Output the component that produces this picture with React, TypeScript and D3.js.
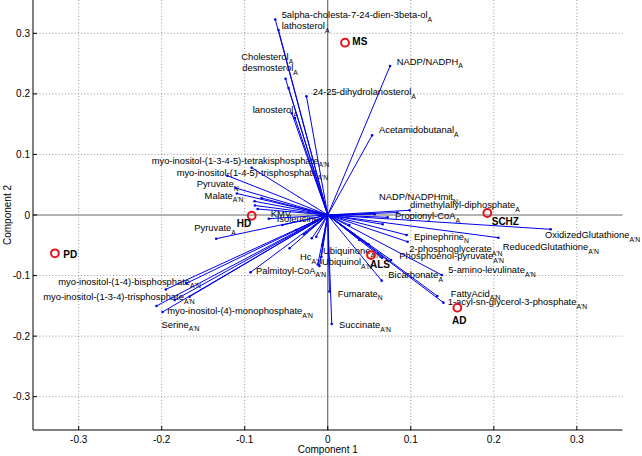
import React from "react";
import * as d3 from "d3";

// ---- Data ----
const vecLabels: string[] = [
  "5alpha-cholesta-7-24-dien-3beta-ol", "lathosterol", "Cholesterol", "desmosterol", "lanosterol",
  "24-25-dihydrolanosterol", "NADP/NADPH", "Acetamidobutanal",
  "myo-inositol-(1-3-4-5)-tetrakisphosphate", "myo-inositol-(1-4-5)-trisphosphate", "Pyruvate", "Malate",
  "Pyruvate", "KMV", "Isoleucine", "Hc", "Palmitoyl-CoA",
  "myo-inositol-(1-4)-bisphosphate", "myo-inositol-(1-3-4)-trisphosphate", "myo-inositol-(4)-monophosphate", "Serine",
  "Ubiquinone", "Ubiquinol", "Fumarate", "Succinate",
  "NADP/NADPHmit", "dimethylallyl-diphosphate", "Propionyl-CoA", "Epinephrine",
  "OxidizedGlutathione", "ReducedGlutathione", "2-phosphoglycerate", "Phosphoenol-pyruvate",
  "Bicarbonate", "5-amino-levulinate", "FattyAcid", "1-acyl-sn-glycerol-3-phosphate",
];
const vecSubs: string[] = [
  "A", "A", "A", "A", "A",
  "A", "A", "A",
  "A'N", "A'N", "N", "A'N",
  "A", "", "", "A'N", "A'N",
  "A'N", "A'N", "A'N", "A'N",
  "A'N", "A'N", "N", "A'N",
  "N", "A", "A", "N",
  "A'N", "A'N", "A'N", "A'N",
  "A", "A'N", "A'N", "A'N",
];
const vecX: number[] = [
  -0.0632, -0.0593, -0.0508, -0.0472, -0.0433,
  -0.0256, 0.075, 0.0534,
  -0.0917, -0.1209, -0.1109, -0.1094,
  -0.1344, -0.0709, -0.0544, -0.012, -0.0929,
  -0.1951, -0.2063, -0.1989, -0.1843,
  -0.0076, -0.01, 0.002, 0.0048,
  0.0986, 0.0838, 0.0721, 0.0962,
  0.2685, 0.2055, 0.0762, 0.0654,
  0.0649, 0.1373, 0.1319, 0.1393,
];
const vecY: number[] = [
  0.3229, 0.3053, 0.2249, 0.2096, 0.1678,
  0.1959, 0.2459, 0.1315,
  0.0781, 0.0649, 0.0446, 0.0355,
  -0.0391, -0.0061, -0.0165, -0.0817, -0.0946,
  -0.1229, -0.1502, -0.1601, -0.1403,
  -0.0693, -0.0842, -0.1262, -0.1799,
  0.0078, 0.0041, -0.0038, -0.0441,
  -0.0236, -0.0375, -0.0743, -0.0705,
  -0.1084, -0.099, -0.1337, -0.1447,
];
// label anchor (left, baseline) in data units
const labX: number[] = [
  -0.0555, -0.0555, -0.1042, -0.103, -0.0904,
  -0.0181, 0.0831, 0.0617,
  -0.2121, -0.182, -0.1579, -0.1483,
  -0.1608, -0.0687, -0.0615, -0.0334, -0.0864,
  -0.3246, -0.3427, -0.1933, -0.2001,
  -0.0057, -0.0069, 0.012, 0.0136,
  0.0617, 0.0991, 0.081, 0.1039,
  0.2617, 0.2108, 0.0983, 0.0862,
  0.073, 0.1452, 0.1481, 0.1445,
];
const labY: number[] = [
  0.3253, 0.3071, 0.2559, 0.2378, 0.1676,
  0.1982, 0.2485, 0.1354,
  0.085, 0.0644, 0.0462, 0.0272,
  -0.0264, -0.0025, -0.0116, -0.0743, -0.0966,
  -0.1148, -0.1404, -0.1635, -0.1858,
  -0.0652, -0.0826, -0.1346, -0.1866,
  0.0248, 0.0116, -0.0066, -0.0405,
  -0.0388, -0.0578, -0.0619, -0.0727,
  -0.104, -0.0958, -0.1346, -0.1486,
];
// unlabeled loading vectors
const extraX: number[] = [
  -0.0881, -0.0877, -0.0845, -0.0797, -0.1702, -0.1664, -0.046, -0.0192, -0.0288, -0.0139,
  -0.0067, -0.0381, -0.0258, 0.0661, 0.095, 0.0493, 0.0381, 0.026, -0.0395, 0.0566,
];
const extraY: number[] = [
  0.0226, 0.0157, 0.0099, 0.028, -0.1128, -0.1349, -0.055, -0.0384, -0.0318, -0.0358,
  -0.0495, -0.0248, -0.0292, -0.0153, -0.033, -0.0483, -0.0413, -0.0165, 0.16, 0.0013,
];

// groups (scores)
const groupNames: string[] = ["MS", "SCHZ", "HD", "PD", "ALS", "AD"];
const groupX: number[] = [0.0208, 0.1922, -0.0916, -0.3286, 0.0521, 0.1561];
const groupY: number[] = [0.2845, 0.0033, -0.0012, -0.0632, -0.0661, -0.1531];
const groupLabX: number[] = [0.0296, 0.1975, -0.1097, -0.3186, 0.0509, 0.1497];
const groupLabY: number[] = [0.2807, -0.0157, -0.0198, -0.0702, -0.0875, -0.1792];

const ticks: number[] = [-0.3, -0.2, -0.1, 0, 0.1, 0.2, 0.3];
const tickLabels: string[] = ["-0.3", "-0.2", "-0.1", "0", "0.1", "0.2", "0.3"];

const FONT = "'Liberation Sans', Arial, Helvetica, sans-serif";

export default function App() {
  const W = 642, H = 456;
  const x = d3.scaleLinear().domain([-0.355, 0.355]).range([33, 622.5]);
  const y = d3.scaleLinear().domain([-0.355, 0.355]).range([430, 0]);
  const [x0, x1] = x.range();
  const [yb, yt] = y.range();

  const allX = vecX.concat(extraX);
  const allY = vecY.concat(extraY);

  return (
    <svg width={W} height={H} style={{ position: "absolute", left: 0, top: 0, background: "#fff" }} fontFamily={FONT}>
      <rect x={0} y={0} width={W} height={H} fill="#fff" />
      {ticks.filter((t) => t !== 0).map((t, i) => (
        <g key={"g" + i}>
          <line x1={x(t)} x2={x(t)} y1={yt} y2={yb} stroke="#7a7a7a" strokeWidth={0.8} strokeDasharray="1,2.2" />
          <line x1={x0} x2={x1} y1={y(t)} y2={y(t)} stroke="#7a7a7a" strokeWidth={0.8} strokeDasharray="1,2.2" />
        </g>
      ))}
      <line x1={x0} x2={x1} y1={y(0)} y2={y(0)} stroke="#9a9a9a" strokeWidth={1.6} />
      <line x1={x(0)} x2={x(0)} y1={yt} y2={yb} stroke="#505050" strokeWidth={1} />
      <line x1={x0} x2={x0} y1={yt} y2={yb} stroke="#000" strokeWidth={1} />
      <line x1={x0} x2={x1} y1={yb} y2={yb} stroke="#000" strokeWidth={1} />
      {ticks.map((t, i) => (
        <g key={"t" + i}>
          <line x1={x(t)} x2={x(t)} y1={yb} y2={yb - 4} stroke="#000" />
          <line x1={x0} x2={x0 + 4} y1={y(t)} y2={y(t)} stroke="#000" />
          <text x={x(t)} y={yb + 12.5} fontSize={10} textAnchor="middle" fill="#000">{tickLabels[i]}</text>
          <text x={x0 - 3} y={y(t) + 3.5} fontSize={10} textAnchor="end" fill="#000">{tickLabels[i]}</text>
        </g>
      ))}
      <text x={x(0)} y={453} fontSize={10} textAnchor="middle" fill="#000">Component 1</text>
      <text transform={`translate(10.5, ${y(0)}) rotate(-90)`} fontSize={10} textAnchor="middle" fill="#000">Component 2</text>

      {vecLabels.map((lab, i) => (
        <text key={"l" + i} x={x(labX[i])} y={y(labY[i])} fontSize={9.4} fill="#000">
          {lab}
          {vecSubs[i] ? <tspan dy={3.8} fontSize={6.8}>{vecSubs[i]}</tspan> : null}
        </text>
      ))}

      {allX.map((vx, i) => (
        <line key={"v" + i} x1={x(0)} y1={y(0)} x2={x(vx)} y2={y(allY[i])} stroke="#0000f0" strokeWidth={1} />
      ))}
      {allX.map((vx, i) => (
        <circle key={"d" + i} cx={x(vx)} cy={y(allY[i])} r={1.3} fill="#0000f0" />
      ))}

      {groupNames.map((g, i) => (
        <g key={"grp" + i}>
          <circle cx={x(groupX[i])} cy={y(groupY[i])} r={3.9} fill="none" stroke="#e8121b" strokeWidth={2} />
          <text x={x(groupLabX[i])} y={y(groupLabY[i])} fontSize={10} fontWeight="bold" fill="#000">{g}</text>
        </g>
      ))}
    </svg>
  );
}
